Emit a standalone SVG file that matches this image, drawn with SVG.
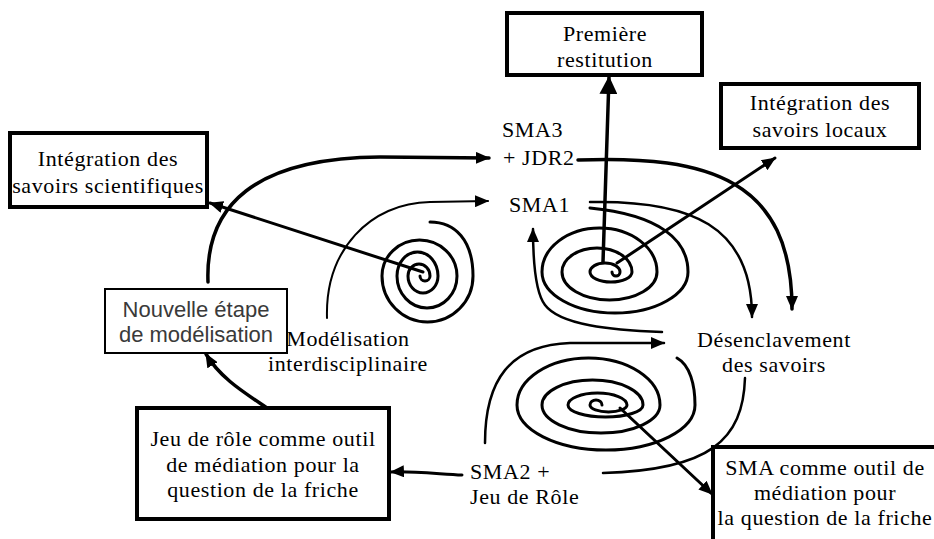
<svg xmlns="http://www.w3.org/2000/svg" width="934" height="539" viewBox="0 0 934 539">
<defs>
<style>
.box{fill:#fff;stroke:#000;stroke-width:4}
.box2{fill:#fff;stroke:#000;stroke-width:2}
.t{font-family:"Liberation Serif","Times New Roman",serif;font-size:22px;letter-spacing:0.6px;fill:#000}
.c{text-anchor:middle}
.s{font-family:"Liberation Sans",Arial,sans-serif;font-size:22px;fill:#3a3a3a;text-anchor:middle}
.ln{fill:none;stroke:#000;stroke-linecap:round;stroke-linejoin:round}
.sp{fill:none;stroke:#000;stroke-width:3;stroke-linecap:round;stroke-linejoin:round}
</style>
<marker id="ah" viewBox="0 0 14 12" refX="13" refY="6" markerWidth="14" markerHeight="12" markerUnits="userSpaceOnUse" orient="auto"><path d="M0,0L14,6L0,12z"/></marker>
<marker id="ahb" viewBox="0 0 18 18" refX="17" refY="9" markerWidth="18" markerHeight="18" markerUnits="userSpaceOnUse" orient="auto"><path d="M0,0L18,9L0,18z"/></marker>
</defs>
<rect width="934" height="539" fill="#fff"/>
<g id="spirals">
<path id="spiral-left" class="sp" d="M420,276 A5,5 0 0 0 430,276 A11,12 0 0 0 408,276 A15,17 0 0 0 438,276 A20.5,24 0 0 0 397,276 A30,32 0 0 0 457,276 A37.5,36 0 0 0 382,276 A45.5,46 0 0 0 473,276 C473,240 455,222 430,222"/>
<path id="spiral-right" class="sp" d="M612,272 A4,4 0 0 0 620,272 A15,9 0 0 0 590,272 A21,10 0 0 0 632,272 A35,24 0 0 0 562,272 A47.5,28 0 0 0 657,272 A57.5,44 0 0 0 542,272 A73,41 0 0 0 688,272 C688,240 660,215 590,208"/>
<path id="spiral-low" class="sp" d="M602,405 A6,5 0 0 0 590,405 A18.5,7 0 0 0 627,405 A29.5,12 0 0 0 568,405 A37.5,12 0 0 0 643,405 A50.5,25 0 0 0 542,405 A59,28 0 0 0 660,405 A71.5,47 0 0 0 517,405 A89,45 0 0 0 695,405 C695,385 690,365 677,358"/>
</g>
<g id="connectors">
<path class="ln" stroke-width="3" d="M423,272 L210,203" marker-end="url(#ah)"/>
<path class="ln" stroke-width="3.5" d="M208,282 C205,205 255,158 380,157 L489,158" marker-end="url(#ah)"/>
<path class="ln" stroke-width="2" d="M327,318 C325,250 370,203 430,202 L488,201" marker-end="url(#ah)"/>
<path class="ln" stroke-width="3.5" d="M578,160 C710,155 792,180 792,309" marker-end="url(#ah)"/>
<path class="ln" stroke-width="2.5" d="M590,202 C690,200 752,225 752,317" marker-end="url(#ah)"/>
<path class="ln" stroke-width="2.5" d="M662,332 C610,330 560,325 545,305 C535,292 533,260 533,229" marker-end="url(#ah)"/>
<path class="ln" stroke-width="2.5" d="M485,443 C485,380 510,345 570,343 L664,343" marker-end="url(#ah)"/>
<path class="ln" stroke-width="2.5" d="M745,378 C743,440 710,470 603,473"/>
<path class="ln" stroke-width="3" d="M462,475 C440,474 410,471 391,472" marker-end="url(#ah)"/>
<path class="ln" stroke-width="3" d="M620,408 L712,494" marker-end="url(#ah)"/>
<path class="ln" stroke-width="3.5" d="M267,408 C245,393 220,378 206,354" marker-end="url(#ah)"/>
<path class="ln" stroke-width="3.5" d="M603,262 L609,77" marker-end="url(#ahb)"/>
<path class="ln" stroke-width="3" d="M617,263 L775,158" marker-end="url(#ah)"/>
</g>
<g id="n-scientifiques">
<rect class="box" x="10" y="133" width="197" height="74"/>
<text class="t c" x="108" y="166">Intégration des</text>
<text class="t c" x="108" y="193">savoirs scientifiques</text>
</g>
<g id="n-restitution">
<rect class="box" x="507" y="13" width="195" height="62"/>
<text class="t c" x="605" y="41">Première</text>
<text class="t c" x="605" y="67">restitution</text>
</g>
<g id="n-locaux">
<rect class="box" x="721" y="84" width="198" height="64"/>
<text class="t c" x="820" y="110">Intégration des</text>
<text class="t c" x="820" y="137">savoirs locaux</text>
</g>
<g id="n-nouvelle">
<rect class="box2" x="105" y="289" width="182" height="64"/>
<text class="s" x="196" y="317">Nouvelle étape</text>
<text class="s" x="196" y="342">de modélisation</text>
</g>
<g id="n-jeu">
<rect class="box" x="137" y="408" width="252" height="111"/>
<text class="t c" x="263" y="446">Jeu de rôle comme outil</text>
<text class="t c" x="263" y="472">de médiation pour la</text>
<text class="t c" x="263" y="497">question de la friche</text>
</g>
<g id="n-sma-outil">
<rect class="box" x="713" y="447" width="240" height="120"/>
<text class="t c" x="825" y="475">SMA comme outil de</text>
<text class="t c" x="825" y="500">médiation pour</text>
<text class="t c" x="825" y="525">la question de la friche</text>
</g>
<g id="n-sma3">
<text class="t" x="502" y="137">SMA3</text>
<text class="t" x="503" y="165">+ JDR2</text>
</g>
<g id="n-sma1"><text class="t" x="509" y="212">SMA1</text></g>
<g id="n-modelisation">
<text class="t c" x="348" y="346">Modélisation</text>
<text class="t c" x="348" y="371">interdisciplinaire</text>
</g>
<g id="n-desenclavement">
<text class="t c" x="774" y="347">Désenclavement</text>
<text class="t c" x="774" y="372">des savoirs</text>
</g>
<g id="n-sma2">
<text class="t" x="470" y="479">SMA2 +</text>
<text class="t" x="470" y="504">Jeu de Rôle</text>
</g>
</svg>
